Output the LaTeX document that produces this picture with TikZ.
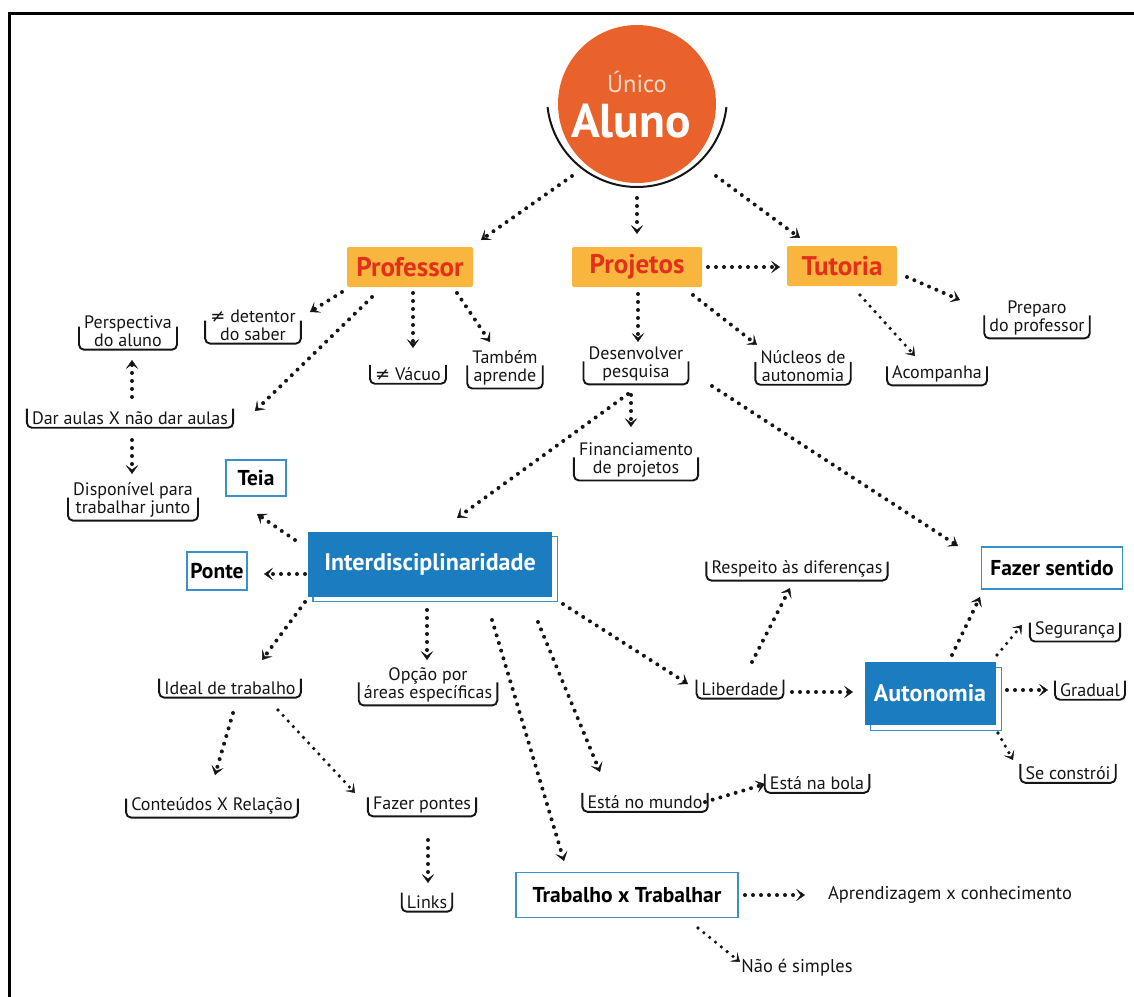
\documentclass[tikz,border=0pt]{standalone}
\usepackage{fontspec}
\setmainfont{PT Sans}
\newfontfamily\symf{DejaVu Sans}
\usetikzlibrary{arrows.meta,backgrounds}
\definecolor{alunoc}{HTML}{E9622B}
\definecolor{unicoc}{HTML}{FCDCCB}
\definecolor{orgbox}{HTML}{F8B63E}
\definecolor{redtxt}{HTML}{E2301C}
\definecolor{bluef}{HTML}{1B7DC0}
\definecolor{bluel}{HTML}{3B8FCB}
\definecolor{ink}{HTML}{151515}
\newcommand{\neqs}{{\symf ≠}}
\tikzset{
  lbl/.style={font=\fontsize{18}{18}\selectfont, text=ink, align=center, inner xsep=5pt, inner ysep=3pt},
  plain/.style={font=\fontsize{18.5}{19}\selectfont, text=ink, align=center, inner sep=2pt},
  orgb/.style={fill=orgbox, text=redtxt, font=\bfseries\fontsize{27}{28}\selectfont, rounded corners=2pt, minimum height=40pt, inner sep=1pt},
  blueb/.style={fill=bluef, text=white, font=\bfseries\fontsize{24}{25}\selectfont, inner sep=1pt},
  outb/.style={draw=bluel, line width=1.6pt, text=black, font=\bfseries\fontsize{21.5}{22}\selectfont, inner sep=1pt},
  brk/.style={draw=ink, line width=1.9pt, rounded corners=5pt},
  con/.style={draw=ink, line width=4pt, dash pattern=on 0pt off 8pt, line cap=round,
     -{Stealth[length=9pt,width=12.5pt,inset=4.5pt,line width=0.4pt]}},
  smallcon/.style={draw=ink, line width=3.6pt, dash pattern=on 0pt off 7.5pt, line cap=round,
     -{Stealth[length=8.5pt,width=12pt,inset=4.5pt,line width=0.4pt]}}
}
\begin{document}
\begin{tikzpicture}[x=1pt,y=-1pt]
\useasboundingbox (0,0) rectangle (1134,996);
\clip (0,0) rectangle (1134,996);
\draw[line width=3pt] (9,1100) -- (9,13) -- (1200,13);

% central node
\node[circle, fill=alunoc, minimum size=158pt, inner sep=0pt] (aluno) at (637,104) {};
\node[text=unicoc, font=\fontsize{24.5}{26}\selectfont, inner sep=0pt] (unico) at (637,82) {Único};
\node[text=white, font=\bfseries\fontsize{47.5}{48}\selectfont, inner sep=0pt] (alunot) at (631,121) {Aluno};
\draw[line width=2pt, ink] (637,97) ++(173.6:90) arc[start angle=173.6, end angle=6.4, radius=90];

% orange boxes
\node[orgb, minimum width=126pt] (prof) at (410,267) {Professor};
\node[orgb, minimum width=130pt] (proj) at (637,267) {Projetos};
\node[orgb, minimum width=110pt] (tut) at (842,266) {Tutoria};

% bracket labels
\node[lbl] (detentor) at (253,325) {\neqs{} detentor\\do saber};
\node[lbl] (vacuo) at (408,374) {\neqs{} Vácuo};
\node[lbl] (tambem) at (505,368) {Também\\aprende};
\node[lbl] (persp) at (128,331) {Perspectiva\\do aluno};
\node[lbl] (dar) at (130,418) {Dar aulas X não dar aulas};
\node[lbl] (disp) at (133,500) {Disponível para\\trabalhar junto};
\node[lbl] (desenv) at (636,364) {Desenvolver\\pesquisa};
\node[lbl] (nucleos) at (803,366) {Núcleos de\\autonomia};
\node[lbl] (preparo) at (1037,318) {Preparo\\do professor};
\node[lbl] (acomp) at (937,374) {Acompanha};
\node[lbl] (financ) at (636,460) {Financiamento\\de projetos};
\node[lbl] (ideal) at (230,688) {Ideal de trabalho};
\node[lbl] (opcao) at (428,685) {Opção por\\áreas específicas};
\node[lbl] (mundo) at (645,802) {Está no mundo};
\node[lbl] (liber) at (740,689) {Liberdade};
\node[lbl] (resp) at (797,569) {Respeito às diferenças};
\node[lbl] (seg) at (1075,630) {Segurança};
\node[lbl] (grad) at (1090,690) {Gradual};
\node[lbl] (secon) at (1068,773) {Se constrói};
\node[lbl] (bola) at (817,783) {Está na bola};
\node[lbl] (cont) at (212,806) {Conteúdos X Relação};
\node[lbl] (pontes) at (422,805) {Fazer pontes};
\node[lbl] (links) at (427,902) {Links};

\foreach \n in {vacuo,dar,acomp,ideal,mundo,liber,resp,seg,grad,secon,bola,cont,pontes,links}
  \draw[brk] ([yshift=19pt]\n.south west) -- (\n.south west) -- (\n.south east) -- ([yshift=19pt]\n.south east);
\foreach \n in {detentor,tambem,persp,disp,desenv,nucleos,preparo,financ,opcao}
  \draw[brk] ([yshift=23pt]\n.south west) -- (\n.south west) -- (\n.south east) -- ([yshift=23pt]\n.south east);

% blue boxes
\node[blueb, minimum width=244pt, minimum height=65pt] (inter) at (430,564) {Interdisciplinaridade};
\node[blueb, minimum width=131pt, minimum height=63pt] (auto) at (930,693) {Autonomia};
\begin{scope}[on background layer]
  \draw[bluel, line width=1.4pt] ([shift={(5,5)}]inter.north west) rectangle ([shift={(5,5)}]inter.south east);
  \draw[bluel, line width=1.4pt] ([shift={(6,6)}]auto.north west) rectangle ([shift={(6,6)}]auto.south east);
\end{scope}

% outlined boxes
\node[outb, minimum width=60pt, minimum height=36pt] (teia) at (256,478) {Teia};
\node[outb, minimum width=60pt, minimum height=38pt] (ponte) at (217,571) {Ponte};
\node[outb, minimum width=141pt, minimum height=42pt] (fazer) at (1052,568) {Fazer sentido};
\node[outb, minimum width=222pt, minimum height=45pt] (trab) at (627,895) {Trabalho x Trabalhar};

% plain text
\node[plain] (aprend) at (950,895) {Aprendizagem x conhecimento};
\node[plain] (nao) at (797,968) {Não é simples};

% connectors
\draw[con] ([shift={(-65,72)}]aluno.center) -- ([shift={(71,-27)}]prof.center);
\draw[con] ([shift={(0,94)}]aluno.center) -- ([shift={(0,-33)}]proj.center);
\draw[con] ([shift={(79,72)}]aluno.center) -- ([shift={(-42,-28)}]tut.center);
\draw[con] ([shift={(71,0)}]proj.center) -- ([shift={(-62,1)}]tut.center);
\draw[con] ([shift={(-68,25)}]prof.center) -- ([shift={(57,-13)}]detentor.center);
\draw[con] ([shift={(3,26)}]prof.center) -- ([shift={(5,-26)}]vacuo.center);
\draw[con] ([shift={(47,26)}]prof.center) -- ([shift={(-15,-26)}]tambem.center);
\draw[con] ([shift={(-38,30)}]prof.center) -- ([shift={(125,-7)}]dar.center);
\draw[con] ([shift={(2,-21)}]dar.center) -- ([shift={(4,29)}]persp.center);
\draw[con] ([shift={(2,22)}]dar.center) -- ([shift={(-1,-26)}]disp.center);
\draw[con] ([shift={(1,27)}]proj.center) -- ([shift={(2,-22)}]desenv.center);
\draw[con] ([shift={(56,28)}]proj.center) -- ([shift={(-46,-21)}]nucleos.center);
\draw[con] ([shift={(65,11)}]tut.center) -- ([shift={(-77,-18)}]preparo.center);
\draw[smallcon] ([shift={(18,29)}]tut.center) -- ([shift={(-22,-18)}]acomp.center);
\draw[con] ([shift={(-5,31)}]desenv.center) -- ([shift={(-5,-33)}]financ.center);
\draw[con] ([shift={(-8,30)}]desenv.center) -- ([shift={(27,-46)}]inter.center);
\draw[con] ([shift={(76,22)}]desenv.center) -- ([shift={(-94,-22)}]fazer.center);
\draw[con] ([shift={(-135,-24)}]inter.center) -- ([shift={(1,36)}]teia.center);
\draw[con] ([shift={(-125,10)}]inter.center) -- ([shift={(47,3)}]ponte.center);
\draw[con] ([shift={(-125,38)}]inter.center) -- ([shift={(32,-28)}]ideal.center);
\draw[con] ([shift={(-3,46)}]inter.center) -- ([shift={(-1,-25)}]opcao.center);
\draw[con] ([shift={(62,56)}]inter.center) -- ([shift={(-63,-34)}]trab.center);
\draw[con] ([shift={(108,58)}]inter.center) -- ([shift={(-45,-30)}]mundo.center);
\draw[con] ([shift={(133,40)}]inter.center) -- ([shift={(-52,-5)}]liber.center);
\draw[con] ([shift={(12,-27)}]liber.center) -- ([shift={(-7,19)}]resp.center);
\draw[con] ([shift={(52,3)}]liber.center) -- ([shift={(-77,-1)}]auto.center);
\draw[con] ([shift={(22,-38)}]auto.center) -- ([shift={(-72,29)}]fazer.center);
\draw[smallcon] ([shift={(67,-38)}]auto.center) -- ([shift={(-53,-5)}]seg.center);
\draw[con] ([shift={(77,-3)}]auto.center) -- ([shift={(-42,0)}]grad.center);
\draw[smallcon] ([shift={(68,40)}]auto.center) -- ([shift={(-55,-13)}]secon.center);
\draw[con] ([shift={(60,0)}]mundo.center) -- ([shift={(-52,1)}]bola.center);
\draw[con] ([shift={(3,25)}]ideal.center) -- ([shift={(3,-31)}]cont.center);
\draw[smallcon] ([shift={(48,22)}]ideal.center) -- ([shift={(-67,-12)}]pontes.center);
\draw[con] ([shift={(6,35)}]pontes.center) -- ([shift={(1,-19)}]links.center);
\draw[con] ([shift={(118,0)}]trab.center) -- ([shift={(-145,0)}]aprend.center);
\draw[smallcon] ([shift={(71,33)}]trab.center) -- ([shift={(-57,-6)}]nao.center);
\end{tikzpicture}
\end{document}
